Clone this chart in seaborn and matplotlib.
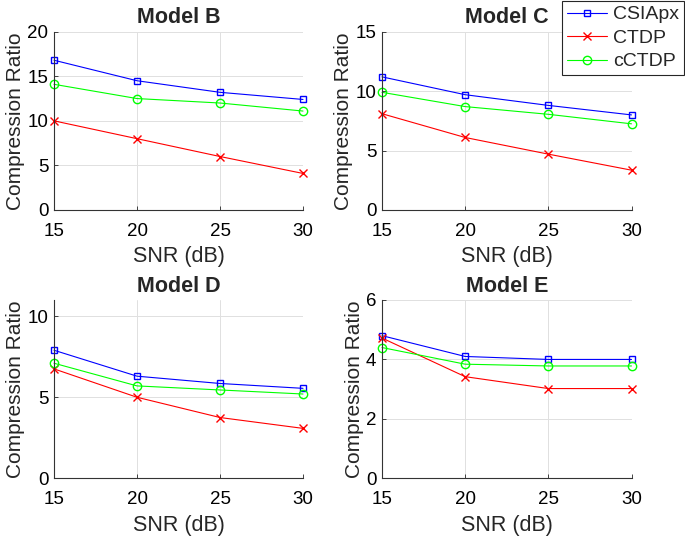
import pandas
import matplotlib as mpl
mpl.use('Agg')
import matplotlib.pyplot as plt
import seaborn as sns


# SNR levels shared by every panel
snr = [15, 20, 25, 30]
methods = ['CSIApx', 'CTDP', 'cCTDP']
models = ['Model B', 'Model C', 'Model D', 'Model E']

# Compression ratios, one list per method and model.
csiapx = {'Model B': [16.8, 14.5, 13.2, 12.4],
          'Model C': [11.2, 9.7, 8.8, 8.0],
          'Model D': [7.9, 6.3, 5.85, 5.55],
          'Model E': [4.8, 4.1, 4.0, 4.0]}
ctdp = {'Model B': [10.0, 8.0, 6.0, 4.1],
        'Model C': [8.1, 6.1, 4.7, 3.35],
        'Model D': [6.75, 5.0, 3.75, 3.08],
        'Model E': [4.72, 3.42, 3.02, 3.02]}
cctdp = {'Model B': [14.1, 12.5, 12.0, 11.1],
         'Model C': [9.9, 8.7, 8.05, 7.25],
         'Model D': [7.1, 5.7, 5.45, 5.2],
         'Model E': [4.4, 3.84, 3.78, 3.78]}

y_limits = {'Model B': (0, 20), 'Model C': (0, 15), 'Model D': (0, 11), 'Model E': (0, 6)}
y_ticks = {'Model B': [0, 5, 10, 15, 20], 'Model C': [0, 5, 10, 15],
           'Model D': [0, 5, 10], 'Model E': [0, 2, 4, 6]}


def main():

    # Long-form table for seaborn.
    data_dicts = []
    for model in models:
        for method, values in zip(methods, [csiapx, ctdp, cctdp]):
            for s, v in zip(snr, values[model]):
                data_dicts.append({'MODEL': model, 'METHOD': method, 'SNR': s, 'RATIO': v})
    data_df = pandas.DataFrame(data_dicts)

    sns.set_style('whitegrid')
    plt.rcParams['font.family'] = ['Liberation Sans', 'DejaVu Sans']

    colors = {'CSIApx': (0, 0, 1), 'CTDP': (1, 0, 0), 'cCTDP': (0, 1, 0)}
    marks = {'CSIApx': 's', 'CTDP': 'X', 'cCTDP': 'o'}
    open_marks = {'CSIApx': ('s', 5.0), 'CTDP': ('x', 5.5), 'cCTDP': ('o', 6.0)}

    fig = plt.figure(figsize=(6.85, 5.38), dpi=100)
    boxes = [(54, 31.7, 303, 210), (382, 31.7, 631.5, 210),
             (54, 300, 303, 478.3), (382, 300, 631.5, 478.3)]

    for model, (x0, y0, x1, y1) in zip(models, boxes):
        ax = fig.add_axes([x0 / 685, 1 - y1 / 538, (x1 - x0) / 685, (y1 - y0) / 538])
        sub = data_df[data_df['MODEL'] == model]
        sns.lineplot(x='SNR', y='RATIO', hue='METHOD', style='METHOD', data=sub,
                     hue_order=methods, style_order=methods, palette=colors,
                     markers=marks, dashes=False, legend=False, ax=ax,
                     linewidth=0.8)
        for line, method in zip(ax.lines, methods):
            line.set_marker(open_marks[method][0])
            line.set_markersize(open_marks[method][1])
            line.set_markerfacecolor('none')
            line.set_markeredgecolor(colors[method])
            line.set_markeredgewidth(1.0)
            line.set_label(method)
            line.set_clip_on(False)

        ax.set_xlim(15, 30)
        ax.set_xticks(snr)
        ax.set_ylim(*y_limits[model])
        ax.set_yticks(y_ticks[model])
        ax.set_title(model, fontsize=15.5, fontweight='bold', pad=6)
        ax.set_xlabel('SNR (dB)', fontsize=15.5, labelpad=5)
        ax.set_ylabel('Compression Ratio', fontsize=15, labelpad=1.5)
        ax.tick_params(labelsize=13.5, direction='in', length=3, width=0.6,
                       left=True, bottom=True, colors='0.15')
        ax.tick_params(axis='y', pad=4)
        ax.tick_params(axis='x', pad=9)
        ax.tick_params(labelcolor='black')
        ax.grid(True, color='0.88', linewidth=0.7)
        for side in ['top', 'right']:
            ax.spines[side].set_visible(False)
        for side in ['left', 'bottom']:
            ax.spines[side].set_color('0.2')
            ax.spines[side].set_linewidth(0.8)

    handles = fig.axes[1].lines[:3]
    leg = fig.legend(handles, methods, loc='upper right', bbox_to_anchor=(1.0, 1.0),
                     fontsize=14, frameon=True, fancybox=False, edgecolor='0.15',
                     framealpha=1, handlelength=2.1, handletextpad=0.3,
                     labelspacing=0.3, borderpad=0.25, borderaxespad=0.05)
    leg.get_frame().set_linewidth(0.8)

    plt.savefig('out.png', dpi=100)
    plt.clf()


if __name__ == '__main__':
    main()
